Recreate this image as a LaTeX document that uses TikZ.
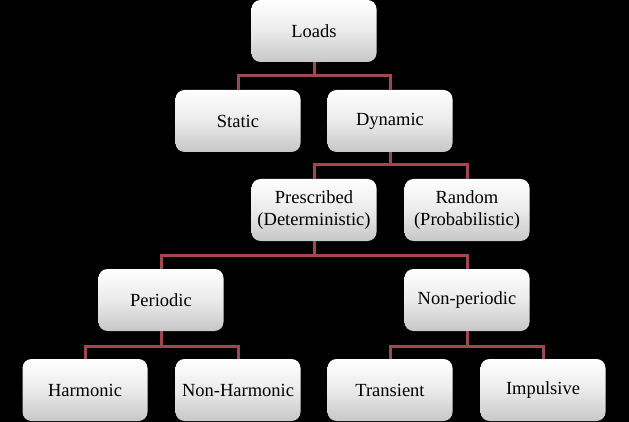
\documentclass[tikz,border=0pt]{standalone}
\usepackage{fontspec}
\setmainfont{Liberation Serif}
\definecolor{linkred}{RGB}{160,72,78}
\tikzset{
  load/.style={rectangle, rounded corners=9pt, draw=none,
    top color=white, bottom color=black!22, middle color=white!92!black,
    minimum width=125pt, minimum height=62pt, align=center,
    font=\fontsize{18.5}{22}\selectfont, inner sep=2pt},
  link/.style={draw=linkred, line width=3pt}
}
\begin{document}
\begin{tikzpicture}[x=1pt,y=-1pt]
\fill[black] (0,0) rectangle (629,422);
\useasboundingbox (0,0) rectangle (629,422);
% boxes
\node [load] (loads) at (314,31) {Loads};
\node [load] (static) at (238,121) {Static};
\node [load] (dynamic) at (390,121) {Dynamic};
\node [load] (prescribed) at (314,210) {Prescribed\\(Deterministic)};
\node [load] (random) at (467,210) {Random\\(Probabilistic)};
\node [load] (periodic) at (161,300) {Periodic};
\node [load] (nonperiodic) at (467,300) {Non-periodic};
\node [load] (harmonic) at (85,390) {Harmonic};
\node [load] (nonharmonic) at (238,390) {Non-Harmonic};
\node [load] (transient) at (390,390) {Transient};
\node [load] (impulsive) at (543,390) {Impulsive};
% junctions
\coordinate (j1) at (314,76);
\coordinate (j2) at (390,165);
\coordinate (j3) at (314,255);
\coordinate (j4) at (161,346);
\coordinate (j5) at (467,346);
% connectors
\draw [link] (loads.south) -- (j1);
\draw [link] (static.north) |- (j1) -| (dynamic.north);
\draw [link] (dynamic.south) -- (j2);
\draw [link] (prescribed.north) |- (j2) -| (random.north);
\draw [link] (prescribed.south) -- (j3);
\draw [link] (periodic.north) |- (j3) -| (nonperiodic.north);
\draw [link] (periodic.south) -- (j4);
\draw [link] (harmonic.north) |- (j4) -| (nonharmonic.north);
\draw [link] (nonperiodic.south) -- (j5);
\draw [link] (transient.north) |- (j5) -| (impulsive.north);
\end{tikzpicture}
\end{document}
